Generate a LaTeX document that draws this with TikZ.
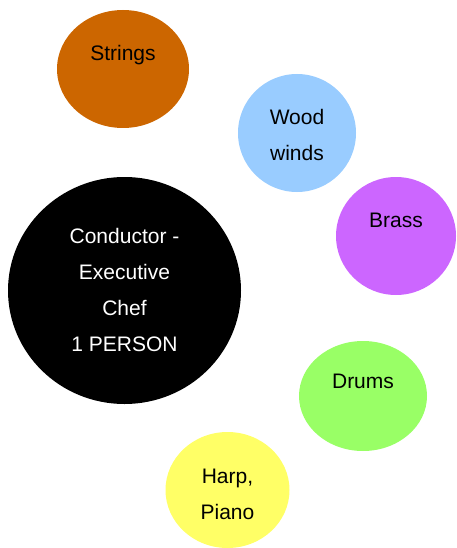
\documentclass[tikz,border=0pt]{standalone}
\usepackage{fontspec}
\setmainfont{Liberation Sans}
\usetikzlibrary{shapes.geometric}
\definecolor{cstrings}{HTML}{CC6600}
\definecolor{cwood}{HTML}{99CCFF}
\definecolor{cbrass}{HTML}{CC66FF}
\definecolor{cdrums}{HTML}{99FF66}
\definecolor{charp}{HTML}{FFFF66}
\tikzset{
  bubble/.style={ellipse, draw=none, inner sep=0pt},
  lbl/.style={align=center, inner sep=0pt, font=\fontsize{21}{36}\selectfont}
}
\begin{document}
\begin{tikzpicture}[x=1pt,y=-1pt]
\useasboundingbox (0,0) rectangle (456,548);
\node[bubble, fill=cstrings, minimum width=132pt, minimum height=118pt] (strings) at (123,69) {};
\node[bubble, fill=cwood, minimum width=118pt, minimum height=118pt] (wood) at (297,133) {};
\node[bubble, fill=cbrass, minimum width=120pt, minimum height=118pt] (brass) at (396,236) {};
\node[bubble, fill=black, minimum width=233pt, minimum height=227pt] (cond) at (124.5,290.5) {};
\node[bubble, fill=cdrums, minimum width=128pt, minimum height=110pt] (drums) at (363,396) {};
\node[bubble, fill=charp, minimum width=124pt, minimum height=116pt] (harp) at (227.5,490) {};
\node[lbl] (tstrings) at (123,54.6) {Strings};
\node[lbl] (twood) at (297,134.5) {Wood\\winds};
\node[lbl] (tbrass) at (396,220.8) {Brass};
\node[lbl, text=white] (tcond) at (124.5,289.9) {Conductor -\\Executive\\Chef\\1 PERSON};
\node[lbl] (tdrums) at (363,381.8) {Drums};
\node[lbl] (tharp) at (227.5,494.6) {Harp,\\Piano};
\end{tikzpicture}
\end{document}
